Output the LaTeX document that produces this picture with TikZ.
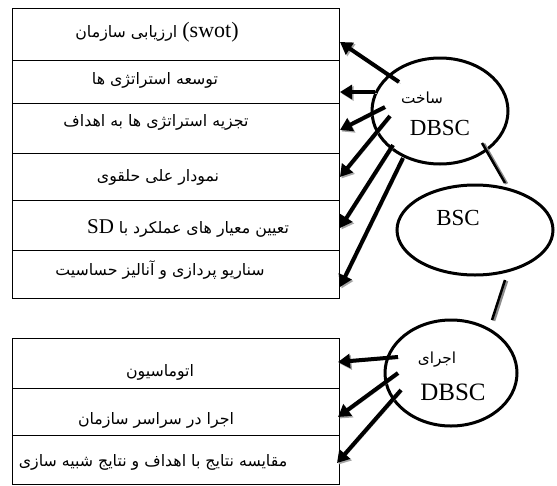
\documentclass[tikz,border=0pt]{standalone}
\usepackage{fontspec}
\setmainfont{Liberation Serif}
\newfontfamily\fa[Script=Arabic]{DejaVu Sans}
\TeXXeTstate=1
\usetikzlibrary{shapes.geometric,arrows.meta}
\begin{document}
\begin{tikzpicture}[x=1pt,y=-1pt,
  row/.style={draw, line width=1pt, minimum width=327pt, anchor=north west, inner sep=0pt, outer sep=0pt},
  lbl/.style={inner sep=0pt, font=\fa\fontsize{15.8}{18}\selectfont},
  elbl/.style={inner sep=0pt, font=\fa\fontsize{15.3}{18}\selectfont},
  ell/.style={draw, ellipse, line width=3pt, inner sep=0pt},
  shadowed/.style={preaction={draw=black!35, transform canvas={shift={(1.5pt,-1.5pt)}}}},
  arr/.style={shadowed, line width=4pt, -{Triangle[length=12pt,width=14pt]}},
  link/.style={line width=2.5pt, black, preaction={draw=black!45, line width=3pt, transform canvas={shift={(1.8pt,-0.8pt)}}}}
]
\useasboundingbox (0,0) rectangle (557,485);
% top box rows
\node[row, minimum height=52pt] (r1) at (12,8) {};
\node[row, minimum height=43pt] (r2) at (12,60) {};
\node[row, minimum height=50pt] (r3) at (12,103) {};
\node[row, minimum height=47pt] (r4) at (12,153) {};
\node[row, minimum height=50pt] (r5) at (12,200) {};
\node[row, minimum height=48pt] (r6) at (12,250) {};
% bottom box rows
\node[row, minimum height=50pt] (b1) at (12,338) {};
\node[row, minimum height=47pt] (b2) at (12,388) {};
\node[row, minimum height=49pt] (b3) at (12,435) {};
% row labels
\node[lbl] (t1) at (157,32) {\beginR\beginL{\rmfamily\fontsize{22}{24}\selectfont(swot)}\endL{} ارزیابی سازمان\endR};
\node[lbl] (t2) at (155,80) {\beginR توسعه استراتژی ها\endR};
\node[lbl] (t3) at (156,122) {\beginR تجزیه استراتژی ها به اهداف\endR};
\node[lbl] (t4) at (158,177) {\beginR نمودار علی حلقوی\endR};
\node[lbl] (t5) at (188,228) {\beginR تعیین معیار های عملکرد با \beginL{\rmfamily\fontsize{21}{23}\selectfont SD}\endL\endR};
\node[lbl] (t6) at (160,270) {\beginR سناریو پردازی و آنالیز حساسیت\endR};
\node[lbl] (u1) at (160,372) {\beginR اتوماسیون\endR};
\node[lbl] (u2) at (156,420) {\beginR اجرا در سراسر سازمان\endR};
\node[lbl] (u3) at (153,462) {\beginR مقایسه نتایج با اهداف و نتایج شبیه سازی\endR};
% ellipses
\node[ell, minimum width=136pt, minimum height=106pt] (e1) at (440,111) {};
\node[ell, minimum width=156pt, minimum height=90pt] (e2) at (475,230) {};
\node[ell, minimum width=132pt, minimum height=106pt] (e3) at (451,373) {};
\node[elbl] (s1) at (422,98) {\beginR ساخت\endR};
\node[inner sep=0pt, font=\fontsize{23}{25}\selectfont] (d1) at (440,128) {DBSC};
\node[inner sep=0pt, font=\fontsize{23}{25}\selectfont] (d2) at (458,218) {BSC};
\node[elbl] (s3) at (437,360) {\beginR اجرای\endR};
\node[inner sep=0pt, font=\fontsize{25}{27}\selectfont] (d3) at (453,392) {DBSC};
% links between ellipses
\coordinate (l1a) at (482,143); \coordinate (l1b) at (505,183);
\coordinate (l2a) at (505,280); \coordinate (l2b) at (492,320);
\draw[link] (l1a) -- (l1b);
\draw[link] (l2a) -- (l2b);
% arrow points
\coordinate (a1s) at (399,82);  \coordinate (a1e) at (340,42);
\coordinate (a2s) at (375,92);  \coordinate (a2e) at (340,92);
\coordinate (a3s) at (385,107); \coordinate (a3e) at (340,130);
\coordinate (a4s) at (390,116); \coordinate (a4e) at (340,177);
\coordinate (a5s) at (393,145); \coordinate (a5e) at (340,228);
\coordinate (a6s) at (403,158); \coordinate (a6e) at (340,287);
\coordinate (c1s) at (398,357); \coordinate (c1e) at (338,362);
\coordinate (c2s) at (398,373); \coordinate (c2e) at (338,417);
\coordinate (c3s) at (401,390); \coordinate (c3e) at (337,463);
\foreach \i in {1,...,6} {\draw[arr] (a\i s) -- (a\i e);}
\foreach \i in {1,2,3} {\draw[arr] (c\i s) -- (c\i e);}
\end{tikzpicture}
\end{document}
